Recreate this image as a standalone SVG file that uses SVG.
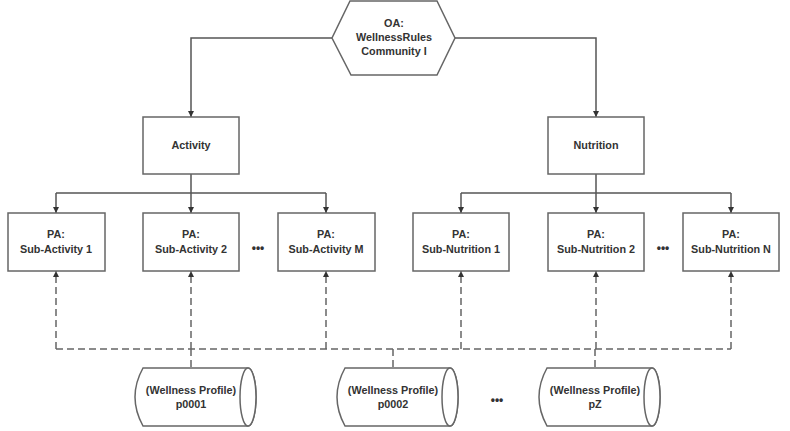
<svg xmlns="http://www.w3.org/2000/svg" width="790" height="431" viewBox="0 0 790 431">
<style>
.box{fill:#fff;stroke:#666;stroke-width:1.5}
.ln{fill:none;stroke:#555;stroke-width:1.5}
.dash{fill:none;stroke:#666;stroke-width:1.5;stroke-dasharray:7,4}
text{font-family:"Liberation Sans",Arial,sans-serif;font-size:10.8px;font-weight:bold;fill:#333;text-anchor:middle}
.dots{font-size:12px}
</style>
<defs>
<marker id="arr" viewBox="0 0 10 10" refX="10" refY="5" markerWidth="6" markerHeight="6" markerUnits="userSpaceOnUse" orient="auto">
<path d="M0,0 L10,5 L0,10 Z" fill="#333"/>
</marker>
</defs>
<rect width="790" height="431" fill="#fff"/>
<g id="connectors">
<path class="ln" d="M332,38 H191 V117" marker-end="url(#arr)"/>
<path class="ln" d="M455,38 H596 V117" marker-end="url(#arr)"/>
<path class="ln" d="M191,174 V193"/>
<path class="ln" d="M56,193 H326"/>
<path class="ln" d="M56,193 V213" marker-end="url(#arr)"/>
<path class="ln" d="M191,193 V213" marker-end="url(#arr)"/>
<path class="ln" d="M326,193 V213" marker-end="url(#arr)"/>
<path class="ln" d="M596,174 V193"/>
<path class="ln" d="M461,193 H731"/>
<path class="ln" d="M461,193 V213" marker-end="url(#arr)"/>
<path class="ln" d="M596,193 V213" marker-end="url(#arr)"/>
<path class="ln" d="M731,193 V213" marker-end="url(#arr)"/>
<path class="dash" d="M56,349 H731"/>
<path class="dash" d="M56,349 V271" marker-end="url(#arr)"/>
<path class="dash" d="M191,349 V271" marker-end="url(#arr)"/>
<path class="dash" d="M326,349 V271" marker-end="url(#arr)"/>
<path class="dash" d="M461,349 V271" marker-end="url(#arr)"/>
<path class="dash" d="M596,349 V271" marker-end="url(#arr)"/>
<path class="dash" d="M731,349 V271" marker-end="url(#arr)"/>
<path class="dash" d="M191,349 V368"/>
<path class="dash" d="M393,349 V368"/>
<path class="dash" d="M595,349 V368"/>
</g>
<g id="oa">
<polygon class="box" points="350,1 437,1 455,38 437,75 351,75 332,38"/>
<text x="394" y="27">OA:</text>
<text x="394" y="41">WellnessRules</text>
<text x="394" y="55">Community I</text>
</g>
<g id="activity">
<rect class="box" x="143" y="117" width="96" height="57"/>
<text x="191" y="149">Activity</text>
</g>
<g id="nutrition">
<rect class="box" x="548" y="117" width="96" height="57"/>
<text x="596" y="149">Nutrition</text>
</g>
<g id="sa1">
<rect class="box" x="8" y="213" width="97" height="58"/>
<text x="56" y="238">PA:</text>
<text x="56" y="253">Sub-Activity 1</text>
</g>
<g id="sa2">
<rect class="box" x="143" y="213" width="96" height="58"/>
<text x="191" y="238">PA:</text>
<text x="191" y="253">Sub-Activity 2</text>
</g>
<g id="sam">
<rect class="box" x="278" y="213" width="97" height="58"/>
<text x="326" y="238">PA:</text>
<text x="326" y="253">Sub-Activity M</text>
</g>
<g id="sn1">
<rect class="box" x="413" y="213" width="96" height="58"/>
<text x="461" y="238">PA:</text>
<text x="461" y="253">Sub-Nutrition 1</text>
</g>
<g id="sn2">
<rect class="box" x="548" y="213" width="96" height="58"/>
<text x="596" y="238">PA:</text>
<text x="596" y="253">Sub-Nutrition 2</text>
</g>
<g id="snn">
<rect class="box" x="683" y="213" width="96" height="58"/>
<text x="731" y="238">PA:</text>
<text x="731" y="253">Sub-Nutrition N</text>
</g>
<text class="dots" x="258" y="252">•••</text>
<text class="dots" x="663" y="252">•••</text>
<g id="p0001">
<path class="box" d="M143,368 H248 A8,29 0 0 1 248,426 H143 Q127,397 143,368 Z"/>
<ellipse class="box" cx="248" cy="397" rx="8" ry="29"/>
<text x="191" y="394">(Wellness Profile)</text>
<text x="191" y="408">p0001</text>
</g>
<g id="p0002">
<path class="box" d="M345,368 H450 A8,29 0 0 1 450,426 H345 Q329,397 345,368 Z"/>
<ellipse class="box" cx="450" cy="397" rx="8" ry="29"/>
<text x="393" y="394">(Wellness Profile)</text>
<text x="393" y="408">p0002</text>
</g>
<g id="pz">
<path class="box" d="M547,368 H652 A8,29 0 0 1 652,426 H547 Q531,397 547,368 Z"/>
<ellipse class="box" cx="652" cy="397" rx="8" ry="29"/>
<text x="595" y="394">(Wellness Profile)</text>
<text x="595" y="408">pZ</text>
</g>
<text class="dots" x="497" y="404">•••</text>
</svg>
